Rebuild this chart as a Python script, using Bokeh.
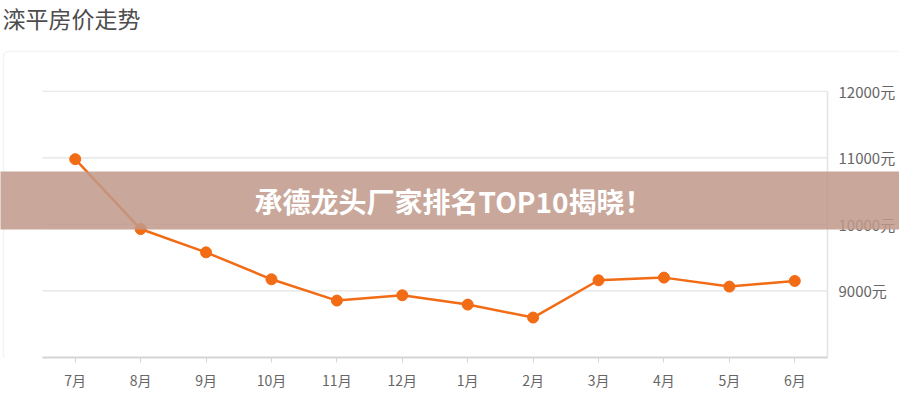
from bokeh.plotting import figure
from bokeh.models import (Range1d, FixedTicker, BoxAnnotation, Label, ColumnDataSource)
from bokeh.core.properties import value
from bokeh.embed import file_html
from bokeh.resources import INLINE

# ---- data ----
title_text = "滦平房价走势"
banner_text = "承德龙头厂家排名TOP10揭晓！"
months = ["7月", "8月", "9月", "10月", "11月", "12月", "1月", "2月", "3月", "4月", "5月", "6月"]
prices = [10980, 9930, 9580, 9175, 8855, 8935, 8795, 8600, 9160, 9200, 9065, 9150]
y_ticks = [9000, 10000, 11000, 12000]
y_tick_labels = ["9000元", "10000元", "11000元", "12000元"]
y_min, y_max = 8000, 12000

# ---- layout (pixels) ----
W, H = 899, 392
PLOT_L, PLOT_R = 42, 827          # plotting box left/right (px)
PLOT_T, PLOT_B = 91, 358          # plotting box top/bottom (px)
FONT = "Noto Sans CJK SC"
ORANGE = "#f26b15"
GRID = "#e3e3e3"

n = len(months)
xs = list(range(n))
px_per_x = (PLOT_R - PLOT_L) / n
x_start = -0.5 - PLOT_L / px_per_x
x_end = x_start + W / px_per_x
px_per_y = (PLOT_B - PLOT_T) / (y_max - y_min)
y_top = y_min + PLOT_B / px_per_y

p = figure(width=W, height=H, output_backend="svg", toolbar_location=None,
           x_range=Range1d(x_start, x_end), y_range=Range1d(y_min, y_top),
           y_axis_location=None,
           min_border_left=0, min_border_right=0,
           min_border_top=0, min_border_bottom=H - PLOT_B)

p.outline_line_color = None
p.grid.grid_line_color = None
p.background_fill_color = "white"
p.border_fill_color = "white"

# x axis with month labels
p.xaxis.ticker = FixedTicker(ticks=xs)
p.xaxis.major_label_overrides = {i: m for i, m in enumerate(months)}
p.xaxis.bounds = (-0.5, n - 0.5)
p.xaxis.axis_line_color = "#d4d4d4"
p.xaxis.axis_line_width = 2
p.xaxis.major_tick_line_color = "#d4d4d4"
p.xaxis.major_tick_out = 5
p.xaxis.major_tick_in = 0
p.xaxis.minor_tick_line_color = None
p.xaxis.major_label_standoff = 7
p.xaxis.major_label_text_font = FONT
p.xaxis.major_label_text_font_size = "14px"
p.xaxis.major_label_text_color = "#666666"

# outer card border
p.add_layout(BoxAnnotation(left=3, right=W + 30, top=51, bottom=H + 30,
                           left_units="canvas", right_units="canvas",
                           top_units="canvas", bottom_units="canvas",
                           fill_color=None, line_color="#d9d9d9", line_width=1.5,
                           border_radius=5, level="underlay"))

# horizontal grid lines (limited to the plotting box) and right border
p.segment(x0=[-0.5] * len(y_ticks), x1=[n - 0.5] * len(y_ticks), y0=y_ticks, y1=y_ticks,
          line_color=GRID, line_width=1.2)
p.segment(x0=[n - 0.5], x1=[n - 0.5], y0=[y_min], y1=[y_max], line_color=GRID, line_width=1.5)

# y tick labels on the right
p.text(x=[n - 0.5] * len(y_ticks), y=y_ticks, text=y_tick_labels, x_offset=11,
       text_font=value(FONT), text_font_size="15px", text_color="#666666",
       text_baseline="middle", text_align="left")

# series
src = ColumnDataSource(dict(x=xs, price=prices))
p.line("x", "price", source=src, line_color=ORANGE, line_width=2.5)
p.scatter("x", "price", source=src, size=11, fill_color=ORANGE, line_color=ORANGE)

# title
p.add_layout(Label(x=2, y=17, x_units="canvas", y_units="canvas",
                   text=title_text, text_font=FONT, text_font_size="23px",
                   text_color="#4d4d4d", text_baseline="middle", text_align="left"))

# banner overlay
p.add_layout(BoxAnnotation(left=-5, right=W + 5, top=171, bottom=229,
                           left_units="canvas", right_units="canvas",
                           top_units="canvas", bottom_units="canvas",
                           fill_color="#bf998a", fill_alpha=0.85, line_color=None,
                           level="overlay"))
p.add_layout(Label(x=453, y=200, x_units="canvas", y_units="canvas",
                   text=banner_text, text_font=FONT, text_font_size="28px",
                   text_font_style="bold", text_color="white",
                   text_baseline="middle", text_align="center", level="overlay"))

open("out.html", "w").write(file_html(p, INLINE))
